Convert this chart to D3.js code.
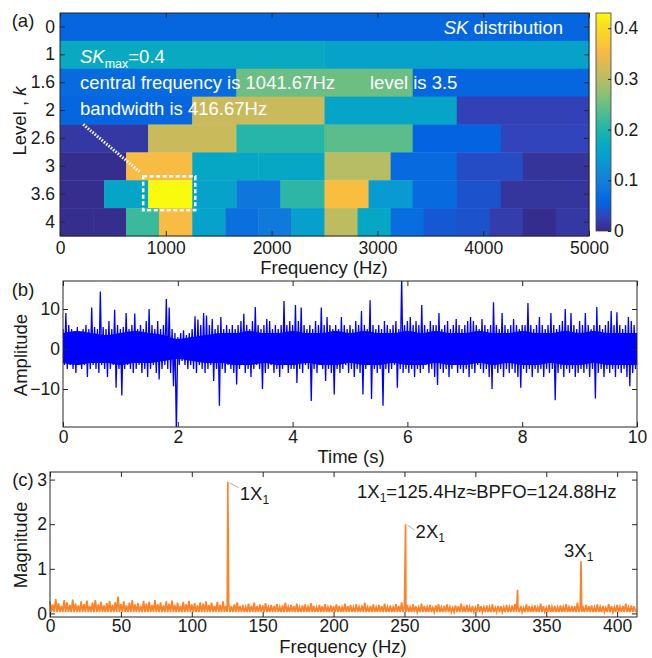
<!DOCTYPE html>
<html lang="en">
<head>
<meta charset="utf-8">
<script src="https://d3js.org/d3.v7.min.js"></script>
<style>
  body { margin: 0; background: #fff; }
  svg { display: block; font-family: "Liberation Sans", Arial, sans-serif; }
  .tick text { font-size: 17.5px; fill: #1a1a1a; }
  .tick line { stroke: #262626; }
</style>
</head>
<body>
<script>
var width = 652, height = 658;

// ---- (a) SK distribution: one array per level, bands split 0-5000 Hz evenly
var levels = ['0', '1', '1.6', '2', '2.6', '3', '3.6', '4'];
var sk0  = [0.06];
var sk1  = [0.17, 0.155];
var sk16 = [0.065, 0.25, 0.06];
var sk2  = [0.06, 0.315, 0.16, 0.025];
var sk26 = [0.015, 0.315, 0.205, 0.24, 0.055, 0.028];
var sk3  = [0.004, 0.355, 0.165, 0.165, 0.30, 0.065, 0.035, 0.01];
var sk36 = [0.004, 0.16, 0.429, 0.155, 0.085, 0.21, 0.36, 0.14, 0.065, 0.04, 0.012, 0.012];
var sk4  = [0.004, 0.004, 0.22, 0.355, 0.155, 0.075, 0.09, 0.15, 0.305, 0.165, 0.07, 0.045, 0.04, 0.02, 0.003, 0.015];
var skRows = [sk0, sk1, sk16, sk2, sk26, sk3, sk36, sk4];
var freqTicksA = [0, 1000, 2000, 3000, 4000, 5000];
var cbTicks = [0, 0.1, 0.2, 0.3, 0.4];

// parula colour stops
var parulaStops = [
  [0.2081,0.1663,0.5292],[0.1959,0.2645,0.7279],[0.0117,0.3875,0.8820],[0.0498,0.4586,0.8641],
  [0.0793,0.5200,0.8312],[0.0343,0.5966,0.8199],[0.0228,0.6535,0.7768],[0.0843,0.6928,0.7062],
  [0.2178,0.7250,0.6193],[0.3953,0.7459,0.5244],[0.5709,0.7485,0.4494],[0.7184,0.7411,0.3905],
  [0.8507,0.7299,0.3360],[0.9739,0.7314,0.2666],[0.9880,0.8066,0.1794],[0.9589,0.8949,0.1132],
  [0.9763,0.9831,0.0538]];
var parulaPos = [0,4,8,12,16,20,24,28,32,36,40,44,48,52,56,60,63].map(function(i){ return i / 63; });

// ---- (b) time signal, upper / lower extremes per 0.05 s
var sigHi = [5,9,6,5,4.5,5.5,4,5,6,5,
  10.4,5.5,5,14.4,5.5,5,7,5,9.8,6,
  5,5.5,9,5,6,8.9,5,6,5,7,
  10,6,5,7,5,6,12.5,10.4,5,4,
  3,4,4.7,3.5,4,5,8.2,7.4,6,9,
  8.4,6,7.5,5,6,8,5,6,5,6,
  5,6,7,8.8,6,5,7,10.5,6,5,
  6,7.5,7,5,6,5,6,12,6,7,
  6,11,7,10.4,6,5,6,5,7,6,
  10.4,6,8,6,5,6,5,8,6,5,
  6,5,7,6,9.5,6,5,12.2,6,5,
  6,5,7,6,5,6,7,5,18,6,
  7,8,6,7,6,11,6,5,7,6,
  6,9,5,6,7,5,6,7.5,6,5,
  6,7,8,7,6,5,7.5,6,5,6,
  11.7,6,5,9,6,5,6,7.5,6,5,
  6,6,11.5,6,5,6,8,6,5,6,
  9,6,5,6,7,10,6,9,6,5,
  7,6,9,6,5,6,10.5,6,5,6,
  7,9.5,6,9.2,6,5,6,8,7,6];
var sigLo = [-4,-5,-4,-5,-6,-4,-5,-4,-7,-5,
  -4,-5,-6,-4,-5,-7,-5,-4,-9.7,-5,
  -11.6,-5,-4,-5,-6,-5,-4,-6,-5,-7,
  -5,-4,-6,-7.6,-5,-4,-5,-6,-9.3,-21,
  -4,-3,-4,-5,-4,-5,-6,-4,-5,-6,
  -5,-4,-8,-5,-14.2,-5,-6,-4,-5,-6,
  -8.9,-5,-4,-6,-5,-7,-5,-4,-5,-10,
  -6,-5,-4,-6,-5,-7,-5,-4,-6,-5,
  -5,-8.5,-5,-6,-4,-5,-13,-5,-6,-4,
  -5,-8,-5,-6,-11.4,-5,-6,-5,-4,-6,
  -5,-7,-5,-6,-11.4,-5,-4,-12.5,-5,-6,
  -5,-14.2,-5,-6,-5,-4,-9.7,-5,-6,-5,
  -6,-5,-7,-5,-6,-5,-4,-6,-5,-7,
  -9,-5,-6,-5,-7,-5,-4,-6,-5,-6,
  -5,-7,-5,-6,-4,-5,-6,-5,-7,-10,
  -5,-6,-5,-7,-5,-6,-5,-6,-7,-9.7,
  -5,-6,-5,-7,-5,-6,-5,-7,-5,-6,
  -5,-12.8,-6,-5,-7,-5,-6,-5,-7,-6,
  -5,-6,-5,-7,-5,-12.4,-6,-5,-7,-5,
  -6,-5,-7,-5,-6,-5,-7,-9.3,-6,-5];
var sigStep = 0.05;
// dense core of the signal, per 0.25 s
var coreHi = [4,4.5,4,3.5,4,4.5,4,3.5,2.5,3,
  3.5,4,4,4.5,4,4,4.5,4,4,4.5,
  4,4.5,4,4,4.5,4,4.5,4,4,4.5,
  4,4,4.5,4,4,4.5,4,4.5,4,4];
var coreLo = [-3.5,-4,-3.5,-3.5,-4,-3.5,-3.5,-3,-2.5,-3,
  -3.5,-3.5,-4,-4,-3.5,-4,-4,-3.5,-4,-4,
  -3.5,-4,-4,-3.5,-4,-4,-3.5,-4,-4,-3.5,
  -4,-3.5,-4,-4,-3.5,-4,-4,-3.5,-4,-4];
var coreStep = 0.25;
var timeTicks = [0, 2, 4, 6, 8, 10];
var ampTicks = [-10, 0, 10];

// ---- (c) envelope spectrum: noise maxima per 2 Hz, plus the fault lines
var specHi = [0.27,0.2,0.32,0.23,0.17,0.3,0.25,0.19,0.31,0.22,0.18,0.27,0.21,0.29,0.17,0.24,0.3,0.2,0.26,0.18,
  0.23,0.28,0.19,0.25,0.38,0.21,0.27,0.18,0.24,0.3,0.2,0.23,0.17,0.28,0.22,0.26,0.19,0.3,0.21,0.25,
  0.18,0.27,0.22,0.29,0.19,0.24,0.17,0.26,0.21,0.28,0.2,0.23,0.18,0.25,0.22,0.27,0.19,0.24,0.17,0.26,
  0.19,0.27,0.17,0.22,0.16,0.2,0.25,0.17,0.19,0.15,0.22,0.17,0.24,0.16,0.2,0.18,0.23,0.15,0.19,0.17,
  0.21,0.15,0.18,0.24,0.15,0.19,0.16,0.22,0.14,0.18,0.2,0.15,0.23,0.17,0.14,0.19,0.16,0.21,0.14,0.18,
  0.16,0.2,0.17,0.14,0.22,0.16,0.19,0.14,0.21,0.15,0.18,0.24,0.14,0.17,0.2,0.14,0.19,0.16,0.22,0.15,
  0.18,0.14,0.21,0.17,0.25,0.15,0.19,0.14,0.2,0.16,0.14,0.22,0.17,0.15,0.19,0.13,0.18,0.21,0.14,0.17,
  0.2,0.15,0.13,0.18,0.16,0.22,0.14,0.19,0.15,0.17,0.13,0.21,0.16,0.14,0.18,0.15,0.2,0.13,0.17,0.16,
  0.14,0.19,0.15,0.18,0.21,0.14,0.17,0.13,0.2,0.16,0.15,0.18,0.14,0.22,0.16,0.13,0.19,0.15,0.17,0.14,
  0.18,0.15,0.21,0.14,0.17,0.16,0.24,0.15,0.13,0.19,0.16,0.18,0.14,0.2,0.15,0.17,0.13,0.21,0.16,0.14,
  0.19,0.15,0.17,0.22,0.14,0.18,0.16];
var specStep = 2;
var specFloor = 0.03;
var peakFreq = [125.4, 250.8, 329.8, 374.5];
var peakMag = [2.95, 2.0, 0.53, 1.17];
var specTicksX = [0, 50, 100, 150, 200, 250, 300, 350, 400];
var specTicksY = [0, 1, 2, 3];

var fmt = d3.format('~g');

var svg = d3.select('body').append('svg')
  .attr('width', width)
  .attr('height', height);

// frame with inward ticks on all four sides
function frame(g, x, y, xt, box, padX, padY, yAxisFn) {
  g.append('g').attr('transform', 'translate(0,' + box.b + ')')
    .call(d3.axisBottom(x).tickValues(xt).tickFormat(fmt).tickSizeInner(-5).tickSizeOuter(0).tickPadding(padX))
    .call(function(a){ a.select('.domain').remove(); });
  g.append('g').attr('transform', 'translate(0,' + box.t + ')')
    .call(d3.axisTop(x).tickValues(xt).tickSizeInner(-5).tickSizeOuter(0).tickFormat(''))
    .call(function(a){ a.select('.domain').remove(); });
  g.append('g').attr('transform', 'translate(' + box.l + ',0)')
    .call(yAxisFn(d3.axisLeft(y)).tickSizeInner(-5).tickSizeOuter(0).tickPadding(padY))
    .call(function(a){ a.select('.domain').remove(); });
  g.append('g').attr('transform', 'translate(' + box.r + ',0)')
    .call(yAxisFn(d3.axisRight(y)).tickSizeInner(-5).tickSizeOuter(0).tickFormat(''))
    .call(function(a){ a.select('.domain').remove(); });
  g.append('rect')
    .attr('x', box.l).attr('y', box.t)
    .attr('width', box.r - box.l).attr('height', box.b - box.t)
    .attr('fill', 'none').attr('stroke', '#262626').attr('stroke-width', 1);
}

function label(txt, x, y, rot) {
  var t = svg.append('text')
    .attr('font-size', 18.5).attr('fill', '#1a1a1a')
    .attr('text-anchor', 'middle');
  if (rot) t.attr('transform', 'translate(' + x + ',' + y + ') rotate(-90)');
  else t.attr('x', x).attr('y', y);
  return t.text(txt);
}

// ================= (a) =================
var boxA = {l: 60, r: 589, t: 13, b: 236};
var xA = d3.scaleLinear().domain([0, 5000]).range([boxA.l, boxA.r]);
var yA = d3.scaleBand().domain(levels).range([boxA.t, boxA.b]);
var cmin = 0, cmax = 0.43;
var color = d3.scaleLinear()
  .domain(parulaPos.map(function(p){ return cmin + p * (cmax - cmin); }))
  .range(parulaStops.map(function(c){ return d3.rgb(c[0] * 255, c[1] * 255, c[2] * 255); }))
  .clamp(true);

var cells = [];
skRows.forEach(function(row, r) {
  var w = 5000 / row.length;
  row.forEach(function(v, j) {
    cells.push({level: levels[r], f0: j * w, f1: (j + 1) * w, v: v});
  });
});

var gA = svg.append('g');
gA.selectAll('rect.cell').data(cells).join('rect')
  .attr('class', 'cell')
  .attr('x', function(d){ return xA(d.f0); })
  .attr('y', function(d){ return yA(d.level); })
  .attr('width', function(d){ return xA(d.f1) - xA(d.f0) + 0.4; })
  .attr('height', yA.bandwidth() + 0.4)
  .attr('fill', function(d){ return color(d.v); });

frame(gA, xA, yA, freqTicksA, boxA, 6, 5, function(a){ return a; });

// highlight of the max cell
var best = cells.reduce(function(a, b){ return b.v > a.v ? b : a; });
gA.append('rect')
  .attr('x', xA(best.f0) - 5).attr('y', yA(best.level) - 4)
  .attr('width', xA(best.f1) - xA(best.f0) + 8)
  .attr('height', yA.bandwidth() + 6)
  .attr('fill', 'none').attr('stroke', '#fff')
  .attr('stroke-width', 2.5).attr('stroke-dasharray', '4,2.5');
gA.append('line')
  .attr('x1', xA(220)).attr('y1', yA('2.6'))
  .attr('x2', xA(760)).attr('y2', yA('3') + yA.bandwidth() * 0.72)
  .attr('stroke', '#fff').attr('stroke-width', 3).attr('stroke-dasharray', '1.5,1.5');

// annotations
var ann = gA.append('g').attr('fill', '#fff').attr('font-size', 18.5);
ann.append('text').attr('x', 563).attr('y', 34).attr('text-anchor', 'end')
  .call(function(t){
    t.append('tspan').attr('font-style', 'italic').text('SK');
    t.append('tspan').text(' distribution');
  });
ann.append('text').attr('x', 80).attr('y', 63)
  .call(function(t){
    t.append('tspan').attr('font-style', 'italic').text('SK');
    t.append('tspan').attr('font-size', 12.5).attr('dy', 5).text('max');
    t.append('tspan').attr('dy', -5).text('=0.4');
  });
ann.append('text').attr('x', 80).attr('y', 89).text('central frequency is 1041.67Hz');
ann.append('text').attr('x', 370).attr('y', 89).text('level is 3.5');
ann.append('text').attr('x', 80).attr('y', 115).text('bandwidth is 416.67Hz');

// colorbar
var cbBox = {l: 596, r: 611, t: 13, b: 231};
var yCb = d3.scaleLinear().domain([cmin, cmax]).range([cbBox.b, cbBox.t]);
var grad = svg.append('defs').append('linearGradient')
  .attr('id', 'cbgrad').attr('x1', 0).attr('y1', 1).attr('x2', 0).attr('y2', 0);
grad.selectAll('stop').data(parulaPos).join('stop')
  .attr('offset', function(d){ return d; })
  .attr('stop-color', function(d, i){
    var c = parulaStops[i];
    return d3.rgb(c[0] * 255, c[1] * 255, c[2] * 255);
  });
svg.append('rect')
  .attr('x', cbBox.l).attr('y', cbBox.t)
  .attr('width', cbBox.r - cbBox.l).attr('height', cbBox.b - cbBox.t)
  .attr('fill', 'url(#cbgrad)').attr('stroke', '#444').attr('stroke-width', 0.8);
svg.append('g').attr('transform', 'translate(' + cbBox.r + ',0)')
  .call(d3.axisRight(yCb).tickValues(cbTicks).tickFormat(fmt).tickSizeInner(-3).tickSizeOuter(0).tickPadding(3))
  .call(function(a){ a.select('.domain').remove(); });

label('Frequency (Hz)', 324, 274);
var lvl = svg.append('text').attr('font-size', 18.5).attr('fill', '#1a1a1a')
  .attr('text-anchor', 'middle').attr('transform', 'translate(26,121) rotate(-90)');
lvl.append('tspan').text('Level , ');
lvl.append('tspan').attr('font-style', 'italic').text('k');
label('(a)', 23, 27);

// ================= (b) =================
var boxB = {l: 63, r: 637, t: 281, b: 427};
var xB = d3.scaleLinear().domain([0, 10]).range([boxB.l, boxB.r]);
var yB = d3.scaleLinear().domain([-19.5, 17]).range([boxB.b, boxB.t]);
var gB = svg.append('g');
gB.append('clipPath').attr('id', 'clipB').append('rect')
  .attr('x', boxB.l).attr('y', boxB.t)
  .attr('width', boxB.r - boxB.l).attr('height', boxB.b - boxB.t);
var corePts = coreHi.map(function(h, i){ return [i * coreStep, h, coreLo[i]]; });
corePts.push([10, coreHi[coreHi.length - 1], coreLo[coreLo.length - 1]]);
gB.append('path')
  .datum(corePts)
  .attr('clip-path', 'url(#clipB)')
  .attr('fill', '#0000ff')
  .attr('d', d3.area().curve(d3.curveMonotoneX)
    .x(function(d){ return xB(d[0]); })
    .y0(function(d){ return yB(d[2]); })
    .y1(function(d){ return yB(d[1]); }));
var sigPts = [];
sigHi.forEach(function(h, i) {
  sigPts.push([i * sigStep, h]);
  sigPts.push([i * sigStep + sigStep / 2, sigLo[i]]);
});
gB.append('path')
  .datum(sigPts)
  .attr('clip-path', 'url(#clipB)')
  .attr('fill', 'none').attr('stroke', '#0000ff').attr('stroke-width', 1.3)
  .attr('d', d3.line().x(function(d){ return xB(d[0]); }).y(function(d){ return yB(d[1]); }));
frame(gB, xB, yB, timeTicks, boxB, 4, 3, function(a){ return a.tickValues(ampTicks).tickFormat(fmt); });
label('Time (s)', 351, 463);
label('Amplitude', 27, 355, true);
label('(b)', 23, 296);

// ================= (c) =================
var boxC = {l: 50, r: 637, t: 472, b: 617};
var xC = d3.scaleLinear().domain([0, 414]).range([boxC.l, boxC.r]);
var yC = d3.scaleLinear().domain([-0.08, 3.17]).range([boxC.b, boxC.t]);
var gC = svg.append('g');
var specPts = [];
specHi.forEach(function(h, i) {
  specPts.push([i * specStep, h]);
  specPts.push([i * specStep + specStep / 2, specFloor]);
});
peakFreq.forEach(function(f, i){ specPts.push([f, peakMag[i]]); });
specPts.sort(function(a, b){ return a[0] - b[0]; });
gC.append('path')
  .datum(specPts)
  .attr('fill', 'none').attr('stroke', '#fd8228').attr('stroke-width', 1.7)
  .attr('d', d3.line().x(function(d){ return xC(d[0]); }).y(function(d){ return yC(d[1]); }));
frame(gC, xC, yC, specTicksX, boxC, 3, 3, function(a){ return a.tickValues(specTicksY).tickFormat(fmt); });

// harmonic labels
var harm = [
  {n: '1X', f: peakFreq[0], m: peakMag[0], dx: 12, dy: 18, lead: true},
  {n: '2X', f: peakFreq[1], m: peakMag[1], dx: 10, dy: 14, lead: true},
  {n: '3X', f: peakFreq[3], m: peakMag[3], dx: -17, dy: -4, lead: false}
];
harm.forEach(function(h) {
  var px = xC(h.f), py = yC(h.m);
  if (h.lead) {
    gC.append('line')
      .attr('x1', px + 2).attr('y1', py + 1)
      .attr('x2', px + h.dx - 1).attr('y2', py + 6)
      .attr('stroke', '#b0b0b0').attr('stroke-width', 1);
  }
  var t = gC.append('text').attr('x', px + h.dx).attr('y', py + h.dy)
    .attr('font-size', 18.5).attr('fill', '#1a1a1a');
  t.append('tspan').text(h.n);
  t.append('tspan').attr('font-size', 12).attr('dy', 4).text('1');
});
var note = gC.append('text').attr('x', 357).attr('y', 498)
  .attr('font-size', 18.5).attr('fill', '#1a1a1a');
note.append('tspan').text('1X');
note.append('tspan').attr('font-size', 12).attr('dy', 4).text('1');
note.append('tspan').attr('dy', -4).text('=125.4Hz\u2248BPFO=124.88Hz');

label('Frequency (Hz)', 343, 653);
label('Magnitude', 27, 545, true);
label('(c)', 23, 486);

console.log('ready..');
</script>
</body>
</html>
